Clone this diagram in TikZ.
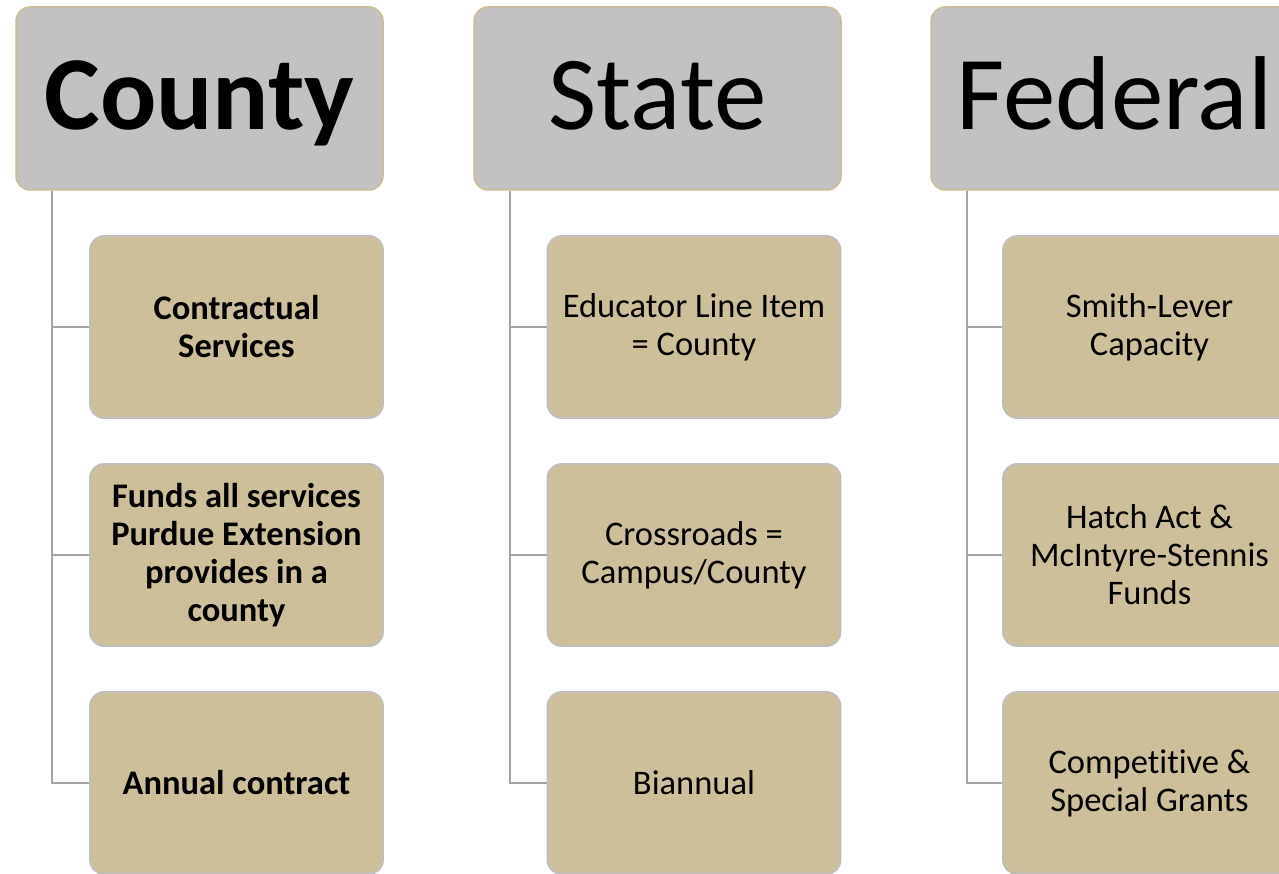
\documentclass[tikz,border=0pt]{standalone}
\usepackage{fontspec}
\setmainfont{Carlito}[Ligatures=NoCommon]
\usepackage{tikz}

\definecolor{hdgray}{HTML}{C4C1C2}
\definecolor{hdtan}{HTML}{CCBD93}
\definecolor{boxtan}{HTML}{CDBF99}
\definecolor{boxrim}{HTML}{C0BDBE}
\definecolor{linkgray}{HTML}{A6A3A4}

\tikzset{
  header/.style={rectangle, rounded corners=14pt, fill=hdgray, draw=hdtan, line width=1.5pt,
    minimum width=367pt, minimum height=183pt, inner sep=0pt,
    text height=63pt, text depth=0pt,
    font=\fontsize{105}{115}\selectfont},
  item/.style={rectangle, rounded corners=14pt, fill=boxtan, draw=boxrim, line width=1.8pt,
    minimum width=293pt, minimum height=182pt, inner sep=0pt, align=center,
    font=\fontsize{34.5}{38}\selectfont},
  link/.style={draw=linkgray, line width=2pt}
}

\begin{document}
\begin{tikzpicture}[x=1pt, y=-1pt]
            \useasboundingbox (0,0) rectangle (1279,874);
            \clip (0,0) rectangle (1279,874);
            \fill[white] (0,0) rectangle (1279,874);

            % column headers
            \node[header] (county) at (199.5, 98.5) {\bfseries County};
            \node[header] (state) at (657.5, 98.5) {State};
            \node[header] (federal) at (1114.5, 98.5) {Federal};

            % county
            \node[item, font=\fontsize{34.5}{38}\selectfont\bfseries] (county1) at (236.5, 327) {Contractual\\Services};
            \node[item, font=\fontsize{34.5}{38}\selectfont\bfseries] (county2) at (236.5, 555) {Funds all services\\Purdue Extension\\provides in a\\county};
            \node[item, font=\fontsize{34.5}{38}\selectfont\bfseries] (county3) at (236.5, 783) {Annual contract};

            % state
            \node[item] (state1) at (694, 327) {Educator Line Item\\= County};
            \node[item] (state2) at (694, 555) {Crossroads =\\Campus/County};
            \node[item] (state3) at (694, 783) {Biannual};

            % federal
            \node[item] (federal1) at (1149.5, 327) {Smith-Lever\\Capacity};
            \node[item] (federal2) at (1149.5, 555) {Hatch Act \&\\McIntyre-Stennis\\Funds};
            \node[item] (federal3) at (1149.5, 783) {Competitive \&\\Special Grants};

            % connectors
            \foreach \col in {county, state, federal}
              \foreach \i in {1,2,3}
                \draw[link] ([xshift=37pt]\col.south west) |- (\col\i.west);
        \end{tikzpicture}
\end{document}
